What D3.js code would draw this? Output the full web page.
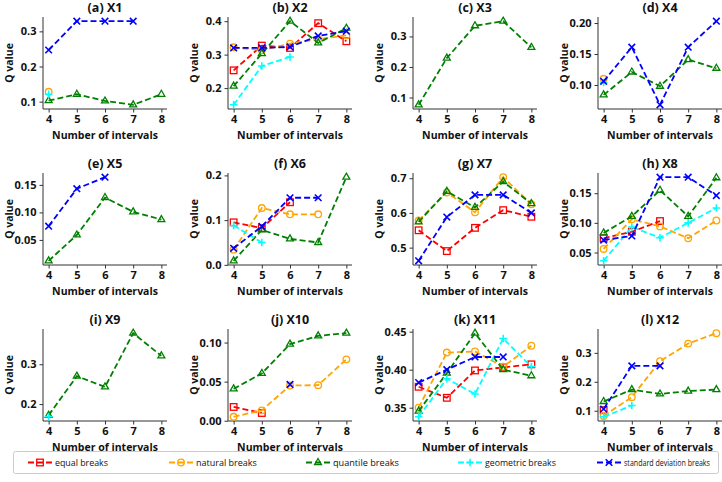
<!DOCTYPE html>
<html><head><meta charset="utf-8">
<script src="https://cdn.jsdelivr.net/npm/d3@7"></script>
<style>body{margin:0;background:#fff}</style>
</head><body><svg id="c" width="722" height="482"></svg>
<script>
const intervals = [4, 5, 6, 7, 8];
const panelTitles = ["(a) X1","(b) X2","(c) X3","(d) X4","(e) X5","(f) X6","(g) X7","(h) X8","(i) X9","(j) X10","(k) X11","(l) X12"];
const methodNames = ["equal breaks","natural breaks","quantile breaks","geometric breaks","standard deviation breaks"];
const N = null;
// one row per panel, values for 4..8 intervals
const equalBreaks = [
  [N,N,N,N,N],
  [0.253,0.327,0.320,0.394,0.340],
  [N,N,N,N,N],
  [N,N,N,N,N],
  [N,N,N,N,N],
  [0.095,0.082,0.140,N,N],
  [0.550,0.490,0.557,0.608,0.589],
  [0.074,0.085,0.103,N,N],
  [N,N,N,N,N],
  [0.0176,0.0099,N,N,N],
  [0.3775,0.363,0.399,0.403,0.407],
  [0.102,N,N,N,N]
];
const naturalBreaks = [
  [0.128,N,N,N,N],
  [0.322,0.313,0.333,0.346,0.358],
  [N,N,N,N,N],
  [0.110,N,N,N,N],
  [N,N,N,N,N],
  [0.034,0.127,0.113,0.113,N],
  [0.578,0.659,0.602,0.703,0.625],
  [0.056,0.106,0.094,0.074,0.104],
  [N,N,N,N,N],
  [0.005,0.0133,0.045,0.0455,0.0785],
  [0.350,0.4225,0.424,0.404,0.4315],
  [0.082,0.147,0.271,0.332,0.368]
];
const quantileBreaks = [
  [0.103,0.121,0.102,0.091,0.121],
  [0.206,0.303,0.400,0.335,0.379],
  [0.076,0.229,0.335,0.350,0.264],
  [0.084,0.121,0.098,0.141,0.127],
  [0.012,0.059,0.127,0.101,0.087],
  [0.009,0.078,0.058,0.050,0.196],
  [0.574,0.662,0.616,0.690,0.627],
  [0.083,0.111,0.155,0.111,0.176],
  [0.172,0.270,0.243,0.378,0.321],
  [0.0408,0.0605,0.098,0.1086,0.112],
  [0.3455,0.3955,0.448,0.400,0.392],
  [0.132,0.173,0.158,0.168,0.173]
];
const geometricBreaks = [
  [0.121,N,N,N,N],
  [0.150,0.266,0.293,N,N],
  [N,N,N,N,N],
  [0.104,N,N,N,N],
  [N,N,N,N,N],
  [0.088,0.050,N,N,N],
  [N,N,N,N,N],
  [0.036,0.093,0.075,0.100,0.125],
  [0.168,N,N,N,N],
  [N,N,N,N,N],
  [0.338,0.388,0.368,0.441,0.404],
  [0.079,0.118,N,N,N]
];
const stdDevBreaks = [
  [0.247,0.329,0.329,0.329,N],
  [0.320,0.320,0.323,0.356,0.370],
  [N,N,N,N,N],
  [0.106,0.161,0.068,0.161,0.203],
  [0.075,0.143,0.164,N,N],
  [0.037,0.086,0.150,0.150,N],
  [0.462,0.588,0.652,0.652,0.600],
  [0.071,0.078,0.177,0.177,0.146],
  [N,N,N,N,N],
  [N,N,0.0464,N,N],
  [0.383,0.400,0.4167,0.4167,N],
  [0.106,0.255,0.255,N,N]
];
const yTickLabels = [
  ["0.1","0.2","0.3"],
  ["0.2","0.3","0.4"],
  ["0.1","0.2","0.3"],
  ["0.10","0.15","0.20"],
  ["0.05","0.10","0.15"],
  ["0.0","0.1","0.2"],
  ["0.5","0.6","0.7"],
  ["0.05","0.10","0.15"],
  ["0.2","0.3"],
  ["0.00","0.05","0.10"],
  ["0.35","0.40","0.45"],
  ["0.1","0.2","0.3"]
];

const allSeries = [equalBreaks, naturalBreaks, quantileBreaks, geometricBreaks, stdDevBreaks];
const colors = ["#ff0000","#ffa500","#008000","#00ffff","#0000ff"];
const FONT = "'Open Sans', 'DejaVu Sans', sans-serif";

const svg = d3.select("#c");
svg.append("rect").attr("width",722).attr("height",482).attr("fill","#fff");

function drawMarker(g, type, x, y, color){
  const s = 3.3;
  if(type===0){
    g.append("rect").attr("x",x-s).attr("y",y-s).attr("width",2*s).attr("height",2*s)
      .attr("fill","none").attr("stroke",color).attr("stroke-width",1.3);
  } else if(type===1){
    g.append("circle").attr("cx",x).attr("cy",y).attr("r",s)
      .attr("fill","none").attr("stroke",color).attr("stroke-width",1.3);
  } else if(type===2){
    const r = 4;
    g.append("path").attr("d",`M${x},${y-r}L${x+r*0.87},${y+r*0.5}L${x-r*0.87},${y+r*0.5}Z`)
      .attr("fill","none").attr("stroke",color).attr("stroke-width",1.3);
  } else if(type===3){
    g.append("path").attr("d",`M${x-s-0.5},${y}H${x+s+0.5}M${x},${y-s-0.5}V${y+s+0.5}`)
      .attr("stroke",color).attr("stroke-width",1.6);
  } else {
    g.append("path").attr("d",`M${x-s},${y-s}L${x+s},${y+s}M${x-s},${y+s}L${x+s},${y-s}`)
      .attr("stroke",color).attr("stroke-width",1.6);
  }
}

const W = 124, H = 92;
for(let p=0;p<12;p++){
  const col = p%4, row = Math.floor(p/4);
  const left = 43 + 185*col, top = 17 + 156*row;
  const g = svg.append("g");
  const x = d3.scaleLinear().domain([3.8,8.2]).range([left,left+W]);
  const vals = [];
  allSeries.forEach(s => s[p].forEach(v => { if(v!==null) vals.push(v); }));
  const lo = d3.min(vals), hi = d3.max(vals), m = (hi-lo)*0.05;
  const y = d3.scaleLinear().domain([lo-m, hi+m]).range([top+H, top]);

  const xAxis = d3.axisBottom(x).tickValues(intervals).tickFormat(d3.format("d")).tickSizeOuter(0).tickSize(3.5).tickPadding(2.5);
  const gx = g.append("g").attr("transform",`translate(0,${top+H})`).call(xAxis);
  const yAxis = d3.axisLeft(y).tickValues(yTickLabels[p].map(Number)).tickFormat((d,i)=>yTickLabels[p][i]).tickSizeOuter(0).tickSize(3.5).tickPadding(3);
  const gy = g.append("g").attr("transform",`translate(${left},0)`).call(yAxis);
  [gx,gy].forEach(a=>{
    a.select(".domain").attr("stroke","#333").attr("stroke-width",1);
    a.selectAll(".tick line").attr("stroke","#333");
    a.selectAll("text").attr("font-family",FONT).attr("font-weight","bold").attr("font-size",11).attr("fill","#111");
  });
  gx.select(".domain").attr("d",`M${left},0H${left+W}`);
  gy.select(".domain").attr("d",`M0,${top+H}V${top}`);

  g.append("text").attr("x",left+W/2).attr("y",top-5).attr("text-anchor","middle")
    .attr("font-family",FONT).attr("font-weight","bold").attr("font-size",12.5).attr("fill","#111").text(panelTitles[p]);
  g.append("text").attr("x",left+W/2).attr("y",top+H+30).attr("text-anchor","middle")
    .attr("font-family",FONT).attr("font-weight","bold").attr("font-size",10.5).attr("fill","#111").text("Number of intervals");
  g.append("text").attr("transform",`translate(${left-30},${top+H/2}) rotate(-90)`).attr("text-anchor","middle")
    .attr("font-family",FONT).attr("font-weight","bold").attr("font-size",10.5).attr("fill","#111").text("Q value");

  allSeries.forEach((s,si)=>{
    const pts = intervals.map((iv,i)=>({iv, v:s[p][i]})).filter(d=>d.v!==null);
    if(pts.length===0) return;
    const line = d3.line().x(d=>x(d.iv)).y(d=>y(d.v));
    g.append("path").datum(pts).attr("d",line).attr("fill","none")
      .attr("stroke",colors[si]).attr("stroke-width",1.8).attr("stroke-dasharray","6,3");
    pts.forEach(d=>drawMarker(g, si, x(d.iv), y(d.v), colors[si]));
  });
}

// legend
const lg = svg.append("g");
lg.append("rect").attr("x",13.5).attr("y",451.5).attr("width",705).attr("height",22)
  .attr("fill","#fff").attr("stroke","#ccc").attr("stroke-width",1).attr("rx",2);
const legendX = [28, 169, 306, 458, 597];
const legendTextW = [53, 61, 66, 71, 86];
methodNames.forEach((name,i)=>{
  const lx = legendX[i], ly = 462.5;
  lg.append("path").attr("d",`M${lx},${ly}H${lx+24}`).attr("stroke",colors[i])
    .attr("stroke-width",1.8).attr("stroke-dasharray","6,3");
  drawMarker(lg, i, lx+12, ly, colors[i]);
  const t = lg.append("text").attr("font-family",FONT)
    .attr("font-size",8.5).attr("fill","#111").text(name);
  const nat = t.node().getComputedTextLength() || legendTextW[i];
  const k = legendTextW[i] / nat;
  t.attr("transform",`translate(${lx+27},${ly+3.2}) scale(${k},1)`);
});
</script></body></html>
